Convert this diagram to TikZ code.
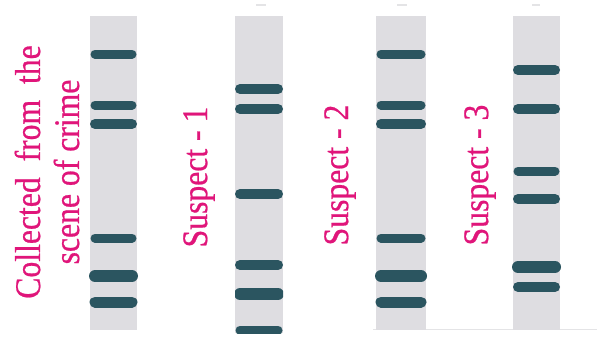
\documentclass[tikz,border=0pt]{standalone}
\usepackage{fontspec}
\setmainfont{Liberation Serif}
\newfontfamily\lblfont[FakeStretch=0.88,FakeBold=0.6]{Liberation Serif}
\definecolor{lanegray}{HTML}{DEDDE1}
\definecolor{bandcol}{HTML}{2B5560}
\definecolor{labelpink}{HTML}{E0157A}
\definecolor{faint}{HTML}{E4E4E6}
\tikzset{
  lane/.style={fill=lanegray, draw=none},
  band/.style={draw=bandcol, line width=#1, line cap=round},
  band/.default=10pt,
  lbl/.style={text=labelpink, font=\lblfont\fontsize{36}{39}\selectfont, rotate=90, inner sep=0pt, align=center},
  tick/.style={draw=faint, line width=1.5pt}
}
\begin{document}
\begin{tikzpicture}[x=1pt,y=-1pt]
\useasboundingbox (0,0) rectangle (597,341);
\fill[white] (0,0) rectangle (597,341);
% faint base line
\draw[faint, line width=1pt] (373,329.5) -- (597,329.5);
% top ticks
\draw[tick] (256,5) -- (266,5);
\draw[tick] (397,5) -- (407,5);
\draw[tick] (532,5) -- (540,5);
% lane 1
\fill[lane] (90,16) rectangle (137,330);
\foreach \y/\w in {54/9, 105/9, 124/10, 238/9, 276/12, 302/11}
  \draw[band=\w pt] (95,\y) -- (132,\y);
% lane 2
\fill[lane] (235,16) rectangle (283,333);
\begin{scope}
\clip (235,16) rectangle (283,333);
\foreach \y/\w in {89/10, 109/10, 194/10, 265/10, 294/12, 330/9}
  \draw[band=\w pt] (240,\y) -- (278,\y);
\end{scope}
% lane 3
\fill[lane] (376,16) rectangle (426,330);
\foreach \y/\w in {54/9, 105/9, 124/10, 238/9, 276/12, 302/11}
  \draw[band=\w pt] (381,\y) -- (421,\y);
% lane 4
\fill[lane] (513,16) rectangle (560,330);
\foreach \y/\w in {70/10, 109/10, 171/9, 199/10, 267/12, 287/10}
  \draw[band=\w pt] (518,\y) -- (555,\y);
% labels
\node[lbl] (crime) at (47,172) {Collected \ from \ the\\scene of crime};
\node[lbl] (s1) at (199,177) {Suspect - 1};
\node[lbl] (s2) at (340,175) {Suspect - 2};
\node[lbl] (s3) at (480,175) {Suspect - 3};
\end{tikzpicture}
\end{document}
